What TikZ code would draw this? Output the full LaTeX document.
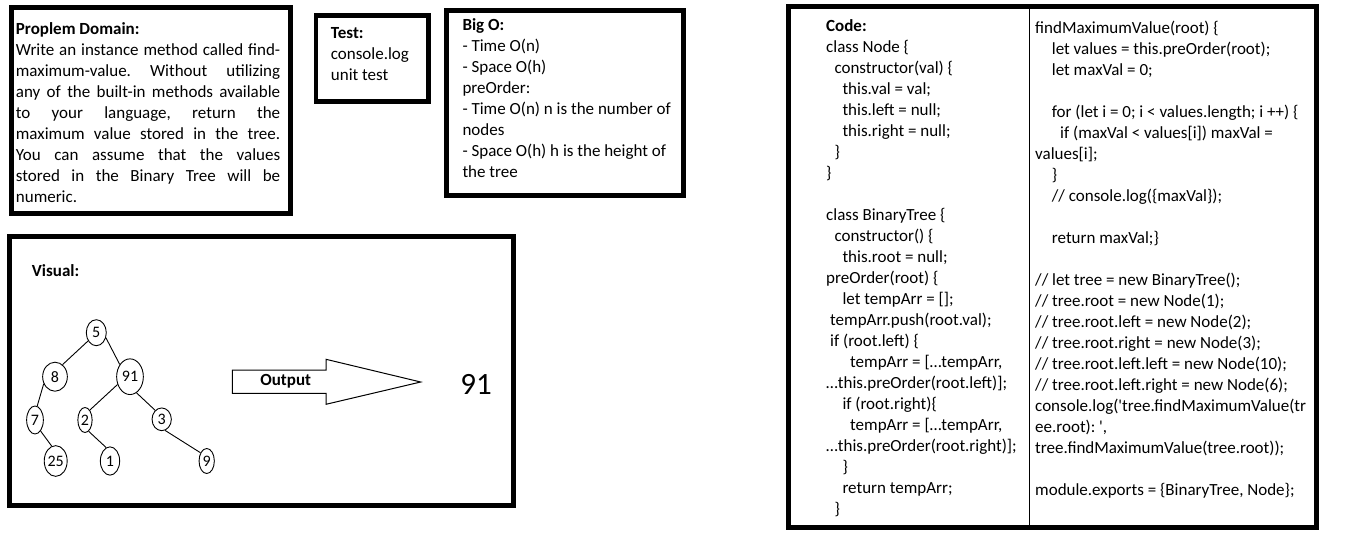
\documentclass[tikz,border=0pt]{standalone}
\usepackage{fontspec}
\setmainfont{Carlito}
\usetikzlibrary{shapes.geometric}
\frenchspacing
\begin{document}
\begin{tikzpicture}[x=1pt,y=-1pt,
  box/.style={draw=black,line width=5pt},
  txt/.style={inner sep=0pt,anchor=north west,align=left,font=\fontsize{17}{21}\selectfont},
  tn/.style={draw,ellipse,line width=0.9pt,inner sep=0pt,font=\fontsize{16}{19}\selectfont},
  edge/.style={line width=0.9pt},
  thin/.style={line width=1pt}]
\useasboundingbox[fill=white] (0,0) rectangle (1347,549);

% frames
\draw[box] (11.5,7.5) rectangle (290,213.5);
\draw[box,line width=4.5pt] (316,15.7) rectangle (428.5,101.5);
\draw[box] (446.5,10) rectangle (683.5,195);
\draw[box] (9.5,236.7) rectangle (513.5,505.8);
\draw[box] (788,6.7) rectangle (1316,527.5);
\draw[thin] (1029.5,6.7) -- (1029.5,527.5);

% problem domain
\node[txt] (prob) at (15.7,19.8) {\strut\textbf{Proplem Domain:}\\
\makebox[264.3pt][s]{Write an instance method called find-}\\
\makebox[264.3pt][s]{maximum-value. Without utilizing}\\
\makebox[264.3pt][s]{any of the built-in methods available}\\
\makebox[264.3pt][s]{to your language, return the}\\
\makebox[264.3pt][s]{maximum value stored in the tree.}\\
\makebox[264.3pt][s]{You can assume that the values}\\
\makebox[264.3pt][s]{stored in the Binary Tree will be}\\
numeric.};

% test
\node[txt] (test) at (330.7,23.8) {\strut\textbf{Test:}\\console.log\\unit test};

% big O
\node[txt] (bigo) at (462.3,15.3) {\strut\textbf{Big O:}\\
- Time O(n)\\
- Space O(h)\\
preOrder:\\
- Time O(n) n is the number of\\
nodes\\
- Space O(h) h is the height of\\
the tree};

% visual
\node[txt] (vis) at (31.7,262) {\strut\textbf{Visual:}};

\node[tn,minimum width=20pt,minimum height=26pt] (n5) at (96.3,332.7) {5};
\node[tn,minimum width=24.7pt,minimum height=29pt] (n8) at (55,376.7) {8};
\node[tn,minimum width=26.7pt,minimum height=35.7pt] (n91) at (130,376.7) {91};
\node[tn,minimum width=16.7pt,minimum height=28pt] (n7) at (35,420) {7};
\node[tn,minimum width=14.3pt,minimum height=25pt] (n2) at (85,420) {2};
\node[tn,minimum width=19.3pt,minimum height=22.7pt] (n3) at (161.7,419.3) {3};
\node[tn,minimum width=22.3pt,minimum height=30.7pt] (n25) at (55.7,461) {25};
\node[tn,minimum width=19.3pt,minimum height=28.3pt] (n1) at (110,461) {1};
\node[tn,minimum width=15.3pt,minimum height=25pt] (n9) at (206.7,461) {9};

\draw[edge] (n5.225) -- (n8.58);
\draw[edge] (n5.-28) -- (n91.130);
\draw[edge] (n8.212) -- (n7.81);
\draw[edge] (n7.-63) -- (n25.105);
\draw[edge] (n91.212) -- (n2.64);
\draw[edge] (n91.-68) -- (n3.126);
\draw[edge] (n2.-72) -- (n1.106);
\draw[edge] (n3.-73) -- (n9.127);

% output arrow
\draw[thin] (232.3,370) -- (326,370) -- (326,359.3) -- (420.7,382) -- (326,404.3) -- (326,393.3) -- (232.3,393.3) -- cycle;
\node[inner sep=0pt,font=\fontsize{17}{21}\selectfont\bfseries] (outl) at (285.7,381.7) {Output};
\node[inner sep=0pt,font=\fontsize{31}{36}\selectfont] (res) at (476,384) {91};

% code left
\node[txt] (codel) at (826,16.8) {\strut\textbf{Code:}\\
class Node \{\\
\hspace*{8.3pt}constructor(val) \{\\
\hspace*{16.3pt}this.val = val;\\
\hspace*{16.3pt}this.left = null;\\
\hspace*{16.3pt}this.right = null;\\
\hspace*{8.3pt}\}\\
\}\\
\mbox{}\\
class BinaryTree \{\\
\hspace*{8.3pt}constructor() \{\\
\hspace*{16.3pt}this.root = null;\\
preOrder(root) \{\\
\hspace*{16.3pt}let tempArr = [];\\
\hspace*{4pt}tempArr.push(root.val);\\
\hspace*{4pt}if (root.left) \{\\
\hspace*{24pt}tempArr = […tempArr,\\
…this.preOrder(root.left)];\\
\hspace*{16.3pt}if (root.right)\{\\
\hspace*{24pt}tempArr = […tempArr,\\
…this.preOrder(root.right)];\\
\hspace*{16.3pt}\}\\
\hspace*{16.3pt}return tempArr;\\
\hspace*{8.3pt}\}};

% code right
\node[txt] (coder) at (1035,18.8) {\strut findMaximumValue(root) \{\\
\hspace*{16.7pt}let values = this.preOrder(root);\\
\hspace*{16.7pt}let maxVal = 0;\\
\mbox{}\\
\hspace*{16.7pt}for (let i = 0; i < values.length; i ++) \{\\
\hspace*{25pt}if (maxVal < values[i]) maxVal =\\
values[i];\\
\hspace*{16.7pt}\}\\
\hspace*{16.7pt}// console.log(\{maxVal\});\\
\mbox{}\\
\hspace*{16.7pt}return maxVal;\}\\
\mbox{}\\
// let tree = new BinaryTree();\\
// tree.root = new Node(1);\\
// tree.root.left = new Node(2);\\
// tree.root.right = new Node(3);\\
// tree.root.left.left = new Node(10);\\
// tree.root.left.right = new Node(6);\\
console.log(\textquotesingle tree.findMaximumValue(tr\\
ee.root): \textquotesingle,\\
tree.findMaximumValue(tree.root));\\
\mbox{}\\
module.exports = \{BinaryTree, Node\};};
\end{tikzpicture}
\end{document}
